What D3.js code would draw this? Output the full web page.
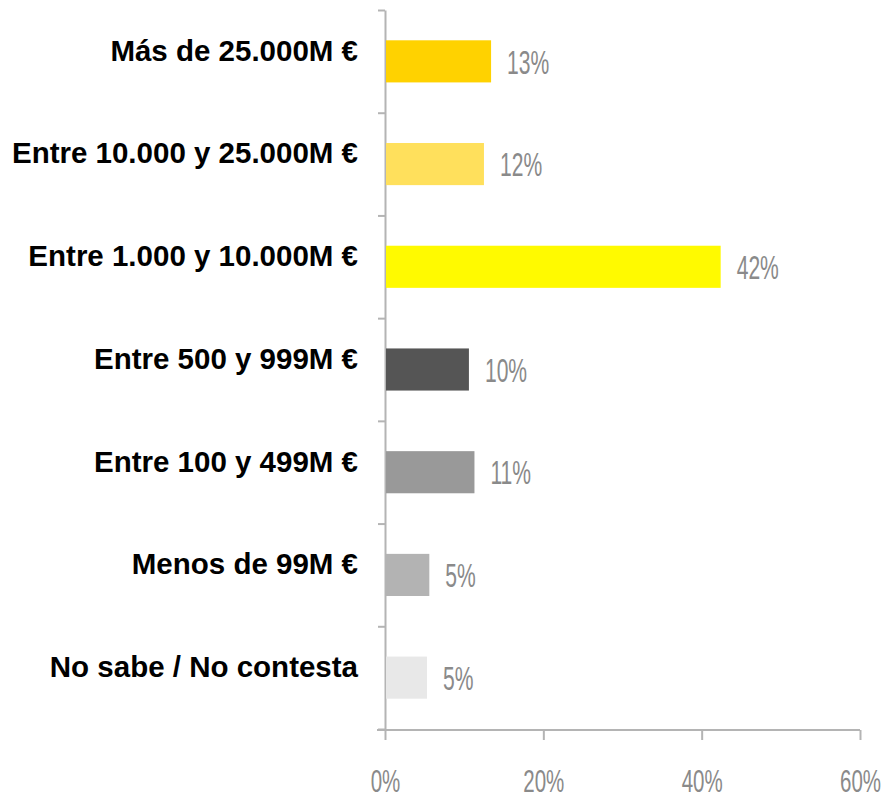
<!DOCTYPE html>
<html>
<head>
<meta charset="utf-8">
<script src="https://cdn.jsdelivr.net/npm/d3@7"></script>
<style>
  body { margin: 0; background: #fff; }
  svg { display: block; }
</style>
</head>
<body>
<div id="chart"></div>
<script>
// Categories, top to bottom
const categories = [
  "Más de 25.000M €",
  "Entre 10.000 y 25.000M €",
  "Entre 1.000 y 10.000M €",
  "Entre 500 y 999M €",
  "Entre 100 y 499M €",
  "Menos de 99M €",
  "No sabe / No contesta"
];
// Bar lengths (%)
const values = [13.4, 12.5, 42.4, 10.6, 11.3, 5.6, 5.3];
// Labels printed next to the bars
const valueLabels = ["13%", "12%", "42%", "10%", "11%", "5%", "5%"];
const barColors = ["#ffd200", "#ffe05c", "#fffa00", "#555555", "#999999", "#b3b3b3", "#e8e8e8"];
const xTicks = [0, 20, 40, 60];

const width = 883, height = 799;
const axisColor = "#b4b4b4";
const labelGrey = "#8a8a8a";

const svg = d3.select("#chart")
  .append("svg")
  .attr("width", width)
  .attr("height", height);

const x = d3.scaleLinear().domain([0, 60]).range([385, 860]);
const y = d3.scaleBand()
  .domain(categories)
  .range([10, 729])
  .paddingInner(0.59)
  .paddingOuter(0.295);

// y axis: line with ticks on category boundaries
const yBound = d3.scaleLinear().domain([0, categories.length]).range([10, 729]);
const yAxis = svg.append("g")
  .attr("transform", `translate(${x(0)},0)`)
  .call(d3.axisLeft(yBound).tickValues(d3.range(categories.length + 1)).tickFormat("").tickSizeInner(7).tickSizeOuter(0));
yAxis.selectAll("path, line").attr("stroke", axisColor).attr("stroke-width", 2);

// x axis
const xAxis = svg.append("g")
  .attr("transform", "translate(0,730)")
  .call(d3.axisBottom(x).tickValues(xTicks).tickFormat(d => d + "%").tickSizeInner(10).tickSizeOuter(0));
xAxis.selectAll("path, line").attr("stroke", axisColor).attr("stroke-width", 2);
xAxis.select(".domain").attr("d", `M${x(0) - 8},0H${x(60)}`);
xAxis.selectAll("text")
  .attr("y", 62)
  .attr("dy", 0)
  .attr("fill", labelGrey)
  .attr("transform", "scale(0.64,1)")
  .style("font-family", "'Liberation Sans', Arial, sans-serif")
  .style("font-size", "32px");

// bars
svg.append("g").selectAll("rect")
  .data(categories)
  .join("rect")
  .attr("x", x(0) + 1)
  .attr("y", d => y(d))
  .attr("width", (d, i) => x(values[i]) - x(0) - 1)
  .attr("height", y.bandwidth())
  .attr("fill", (d, i) => barColors[i]);

// value labels
svg.append("g").selectAll("text")
  .data(categories)
  .join("text")
  .attr("transform", (d, i) => `translate(${x(values[i]) + 16},${y(d) + y.bandwidth() / 2}) scale(0.62,1)`)
  .attr("dy", "0.36em")
  .attr("fill", labelGrey)
  .style("font-family", "'Liberation Sans', Arial, sans-serif")
  .style("font-size", "34px")
  .text((d, i) => valueLabels[i]);

// category labels
svg.append("g").selectAll("text")
  .data(categories)
  .join("text")
  .attr("x", 358)
  .attr("y", d => y(d) + y.bandwidth() / 2 - 11)
  .attr("dy", "0.35em")
  .attr("text-anchor", "end")
  .attr("fill", "#000")
  .style("font-family", "'Liberation Sans', Arial, sans-serif")
  .style("font-weight", "bold")
  .style("font-size", "29.5px")
  .text(d => d);
</script>
</body>
</html>
